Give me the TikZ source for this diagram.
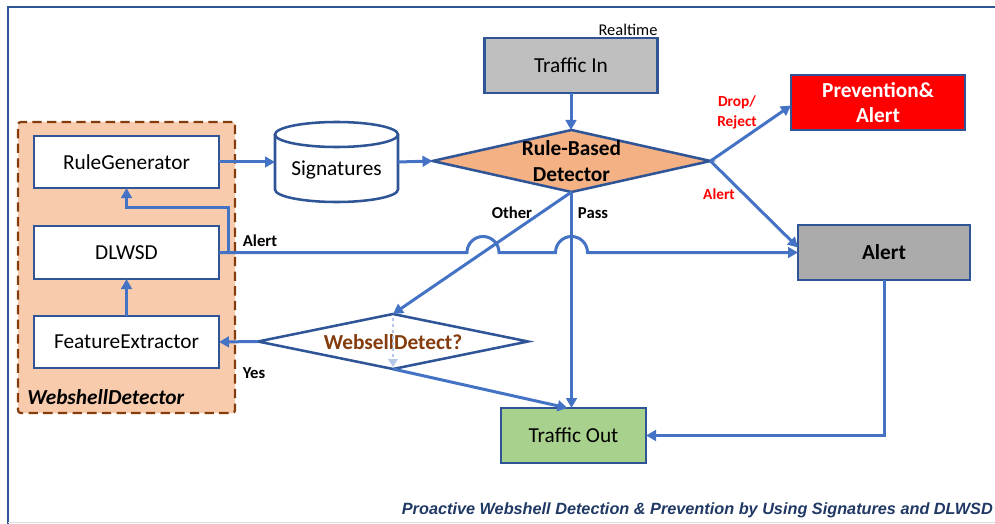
\documentclass[tikz,border=0pt]{standalone}
\usepackage{fontspec}
\setmainfont{Carlito}
\newfontfamily\capfont{Liberation Sans}
\usetikzlibrary{shapes.geometric,arrows.meta,calc}
\definecolor{conn}{HTML}{4472C4}
\definecolor{bord}{HTML}{2F5597}
\definecolor{darkbrown}{HTML}{843C0C}
\definecolor{lorange}{HTML}{F8CBAD}
\definecolor{dorange}{HTML}{F4B183}
\definecolor{grayin}{HTML}{BFBFBF}
\definecolor{grayal}{HTML}{ABABAB}
\definecolor{greenout}{HTML}{A9D18E}
\definecolor{capblue}{HTML}{1F3864}
\definecolor{dotblue}{HTML}{B4C7E7}
\begin{document}
\begin{tikzpicture}[x=0.75pt,y=-0.75pt,
 box/.style={draw=bord,line width=1.9pt,rectangle,inner sep=0,outer sep=0,fill=white,
   font=\fontsize{16}{19}\selectfont,align=center},
 dia/.style={draw=bord,line width=1.9pt,diamond,inner sep=0,outer sep=0},
 link/.style={draw=conn,line width=2.25pt,-{Triangle[length=7.5pt,width=8pt]}},
 lbl/.style={font=\fontsize{12.5}{15}\selectfont\bfseries,inner sep=0},
]
\useasboundingbox (0,0) rectangle (995,524);
% frame
\draw[bord,line width=1.5pt] (8,524) -- (8,7) -- (995,7);
\draw[black!12,line width=1pt] (8,522.5) -- (995,522.5);

% container
\node[draw=darkbrown,fill=lorange,line width=1.7pt,dash pattern=on 7pt off 4pt,
  rounded corners=2pt,minimum width=162.75pt,minimum height=218.25pt,inner sep=0,outer sep=0]
  (wsd) at (126.5,267.5) {};
\node[font=\fontsize{16}{18}\selectfont\bfseries\itshape,anchor=west,inner sep=0] (wsdl) at (27,397) {WebshellDetector};

\node[box,minimum width=138.75pt,minimum height=39pt] (rg) at (126.5,162) {RuleGenerator};
\node[box,minimum width=138.75pt,minimum height=39.75pt] (dl) at (126.5,252.5) {DLWSD};
\node[box,minimum width=138.75pt,minimum height=39pt] (fe) at (126.5,342) {FeatureExtractor};

% signatures cylinder
\node[minimum width=92.25pt,minimum height=60pt,inner sep=0,outer sep=0] (sig) at (336.5,162) {};
\draw[bord,line width=1.9pt,fill=white] (275,134.5) -- (275,189.5)
  arc[start angle=180,end angle=0,x radius=61.5,y radius=12.5] -- (398,134.5);
\draw[bord,line width=1.9pt,fill=white] (336.5,134.5) ellipse[x radius=61.5,y radius=12.5];
\node[font=\fontsize{16}{18}\selectfont,inner sep=0] (sigt) at (336.5,170) {Signatures};

% top
\node[box,fill=grayin,minimum width=129.75pt,minimum height=41.25pt] (tin) at (571,65.5) {Traffic In};
\node[font=\fontsize{12.3}{14}\selectfont,inner sep=0] (rt) at (628,30) {Realtime};

\node[dia,fill=dorange,minimum width=208.5pt,minimum height=46.5pt] (rbd) at (571.5,161) {};
\node[font=\fontsize{16}{19.5}\selectfont\bfseries,align=center,inner sep=0] (rbdt) at (571.5,161) {Rule-Based\\Detector};

\node[box,fill=red,text=white,font=\fontsize{16}{19}\selectfont\bfseries,minimum width=130.5pt,minimum height=41.25pt] (prev) at (878,102.5) {Prevention\&\\Alert};
\node[box,fill=grayal,font=\fontsize{16}{19}\selectfont\bfseries,minimum width=129pt,minimum height=41.25pt] (al) at (884,252.5) {Alert};
\node[box,fill=greenout,minimum width=108.75pt,minimum height=41.25pt] (tout) at (573.5,435.5) {Traffic Out};

\node[dia,fill=white,minimum width=202.5pt,minimum height=41.25pt] (wd) at (393,341.5) {};
\node[text=darkbrown,font=\fontsize{16}{18}\selectfont\bfseries,inner sep=0] (wdt) at (393,342) {WebsellDetect?};

% connectors
\draw[link] (rg.east) -- (sig.west);
\draw[link] (sig.east) -- (rbd.west);
\draw[link] (tin.south) -- (tin.south |- rbd.north);
\draw[link] (rbd.east) -- ($(prev.west)+(0,3)$);
\draw[link] (rbd.east) -- ($(al.west)+(0,-5)$);
\draw[link] (rbd.south) -- (wd.north);
\draw[link] (rbd.south) -- (rbd.south |- tout.north);
\draw[link] (wd.south) -- ($(tout.north)+(-6,0)$);
\draw[link] (wd.west) -- (fe.east);
\draw[link] (fe.north) -- (dl.south);
\draw[link] (dl.east) -- ++(9,0) |- ($(rg.south)+(0,19)$) -- (rg.south);
\draw[link] (dl.east) -- (467,252.5) arc[start angle=180,end angle=360,radius=16]
  -- (555.5,252.5) arc[start angle=180,end angle=360,radius=16] -- (al.west);
\draw[link] (al.south) |- (tout.east);
\draw[dotblue,line width=1.8pt,dash pattern=on 2pt off 2.5pt,-{Triangle[length=6pt,width=7pt]}]
  ($(wd.north)+(0,4)$) -- ($(wd.south)+(0,-2)$);

% labels
\node[lbl] (l1) at (260,241) {Alert};
\node[lbl] (l2) at (512,213) {Other};
\node[lbl] (l3) at (593,213) {Pass};
\node[lbl] (l4) at (254,373) {Yes};
\node[lbl,text=red,align=center,font=\fontsize{11.5}{15}\selectfont\bfseries] (l5) at (737,112) {Drop/\\Reject};
\node[lbl,text=red,font=\fontsize{11.5}{13}\selectfont\bfseries] (l6) at (719,194) {Alert};

\node[font=\capfont\fontsize{12.2}{14}\selectfont\bfseries\itshape,text=capblue,anchor=east,inner sep=0] (cap) at (993,510)
  {Proactive Webshell Detection \& Prevention by Using Signatures and DLWSD};
\end{tikzpicture}
\end{document}
